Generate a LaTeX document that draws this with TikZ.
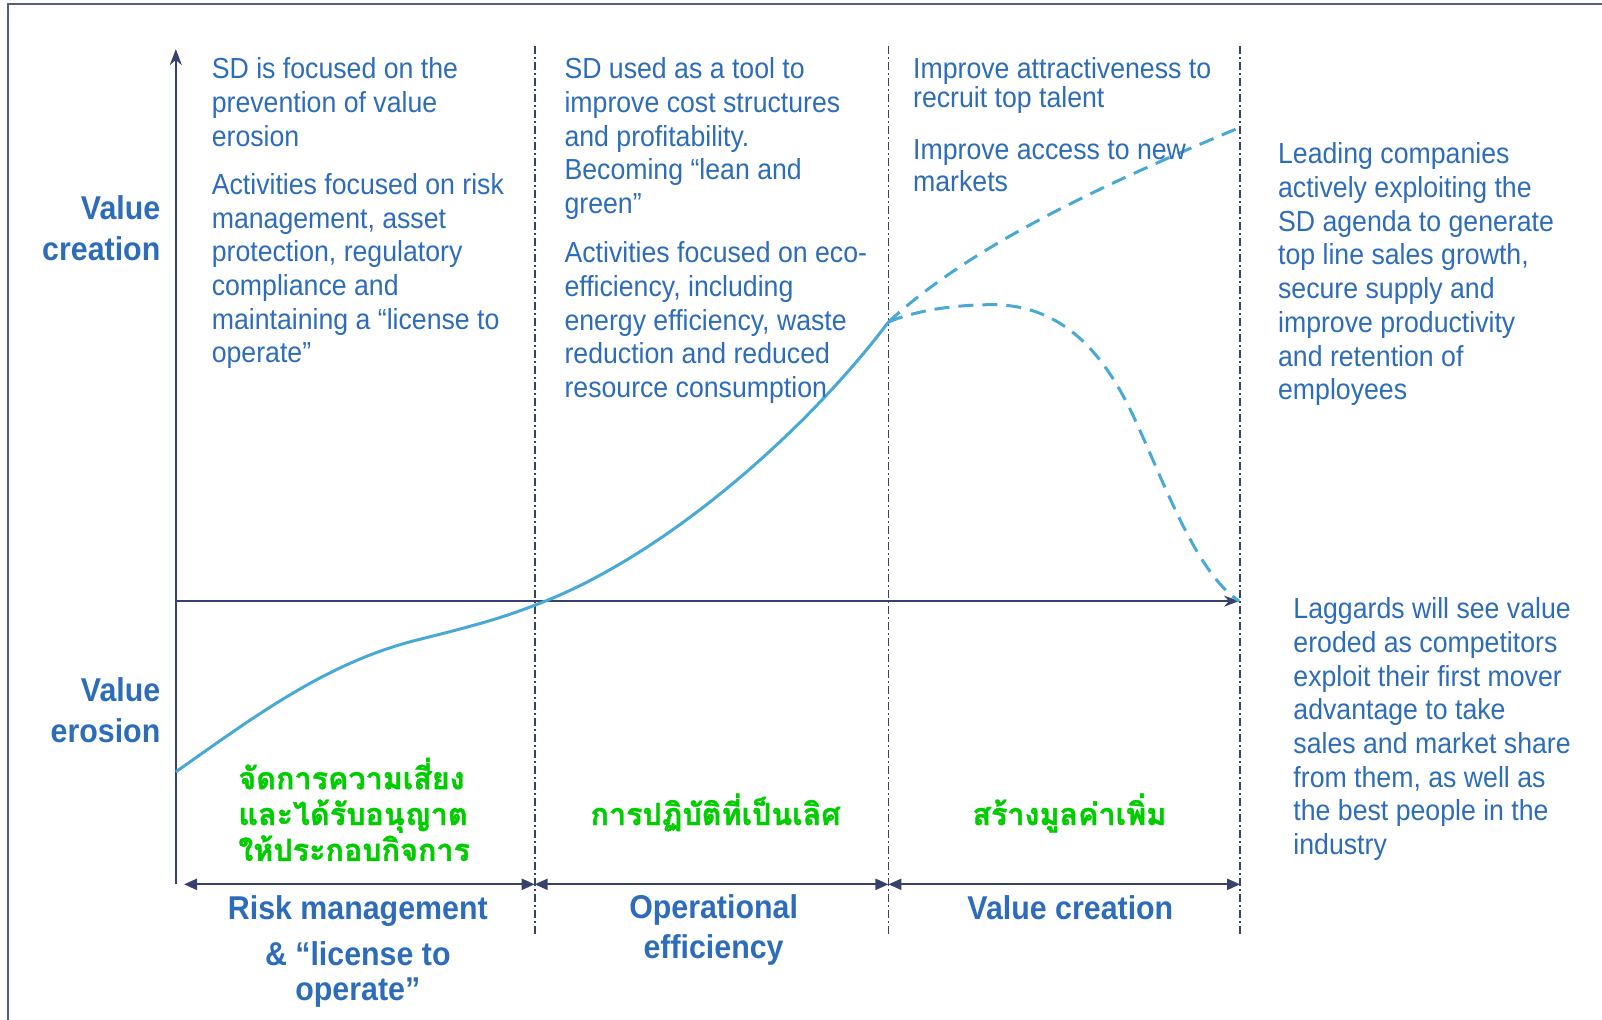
\documentclass[tikz,border=0pt]{standalone}
\usepackage{fontspec}
\setmainfont{Liberation Sans}[FakeStretch=0.92]
\newfontfamily\thaifont[Script=Thai,FakeBold=1.3]{Loma}
\usetikzlibrary{arrows.meta}
\definecolor{txtblue}{RGB}{45,108,186}
\definecolor{navy}{RGB}{55,66,108}
\definecolor{curveblue}{RGB}{72,168,214}
\definecolor{thaigreen}{RGB}{0,204,0}
\begin{document}
\begin{tikzpicture}[x=1.0224pt,y=-1.0224pt,
  body/.style={font=\fontsize{29}{33.7}\selectfont, text=txtblue, align=left, inner sep=0pt, anchor=base west},
  boldlab/.style={font=\fontsize{33}{40.9}\selectfont\bfseries, text=txtblue, inner sep=0pt},
  thai/.style={font=\fontsize{30.5}{35.8}\selectfont\thaifont\bfseries, text=thaigreen, inner sep=0pt},
  axis/.style={draw=navy, line width=2.2pt},
  divider/.style={draw=navy, line width=1.7pt, dash pattern=on 8pt off 3pt on 2pt off 3pt},
  span/.style={draw=navy, line width=2.2pt, {Triangle[length=13pt,width=11pt]}-{Triangle[length=13pt,width=11pt]}},
  curve/.style={draw=curveblue, line width=3pt},
  dashcurve/.style={curve, dash pattern=on 15pt off 9pt}]
\useasboundingbox (0,0) rectangle (1567,997.7);
\draw[navy!85, line width=2.5pt] (8,4) rectangle (1620,1060);

% axes
\coordinate (O) at (172,588);
\coordinate (ybot) at (172,865);
\coordinate (ytop) at (172,48);
\coordinate (xend) at (1212,588);
\draw[axis, -{Stealth[length=16pt,width=12pt]}] (ybot) -- (ytop);
\draw[axis, -{Stealth[length=15pt,width=11pt]}] (O) -- (xend);

% dividers
\foreach \n/\x in {1/523,2/869,3/1213}{
  \coordinate (d\n t) at (\x,45);
  \coordinate (d\n b) at (\x,915);
  \draw[divider] (d\n t) -- (d\n b);
}

% spans
\coordinate (s0) at (180,865);
\coordinate (s1) at (523,865);
\coordinate (s2) at (869,865);
\coordinate (s3) at (1213,865);
\draw[span] (s0) -- (s1);
\draw[span] (s1) -- (s2);
\draw[span] (s2) -- (s3);

% curves
\coordinate (cs) at (172,755);
\coordinate (J) at (869,315);
\coordinate (up) at (1212,125);
\draw[curve] (cs) .. controls (250,700) and (320,648) .. (408,626)
  .. controls (460,613) and (490,605) .. (523,592)
  .. controls (650,545) and (790,420) .. (J);
\draw[dashcurve] (J) .. controls (950,240) and (1080,180) .. (up);
\draw[dashcurve] (J) .. controls (900,302) and (940,298) .. (972,298)
  .. controls (1040,299) and (1080,345) .. (1110,410)
  .. controls (1140,475) and (1170,560) .. (xend);

% column texts (anchored at the baseline of the last line)
\node[body] (c1a) at (207,143) {SD is focused on the\\prevention of value\\erosion};
\node[body] (c1b) at (207,355) {Activities focused on risk\\management, asset\\protection, regulatory\\compliance and\\maintaining a “license to\\operate”};
\node[body] (c2a) at (552,209) {SD used as a tool to\\improve cost structures\\and profitability.\\Becoming “lean and\\green”};
\node[body] (c2b) at (552,389) {Activities focused on eco-\\efficiency, including\\energy efficiency, waste\\reduction and reduced\\resource consumption};
\node[body, font=\fontsize{29}{29}\selectfont] (c3a) at (893,105.4) {Improve attractiveness to\\recruit top talent};
\node[body, font=\fontsize{29}{31.7}\selectfont] (c3b) at (893,187) {Improve access to new\\markets};
\node[body] (r1) at (1250,391) {Leading companies\\actively exploiting the\\SD agenda to generate\\top line sales growth,\\secure supply and\\improve productivity\\and retention of\\employees};
\node[body] (r2) at (1265,836) {Laggards will see value\\eroded as competitors\\exploit their first mover\\advantage to take\\sales and market share\\from them, as well as\\the best people in the\\industry};

% axis labels
\node[boldlab, align=right, anchor=base east] (vc) at (157,255) {Value\\creation};
\node[boldlab, align=right, anchor=base east] (ve) at (157,726) {Value\\erosion};

% bottom labels
\node[boldlab, anchor=base] (rm1) at (350,899) {Risk management};
\node[boldlab, anchor=base] (rm2) at (350,944) {\& “license to};
\node[boldlab, anchor=base] (rm3) at (350,979) {operate”};
\node[boldlab, align=center, anchor=base] (oe) at (698,938) {Operational\\efficiency};
\node[boldlab, anchor=base] (vcb) at (1047,899) {Value creation};

% Thai labels
\node[thai, align=left, anchor=base west] (th1) at (233,842) {จัดการความเสี่ยง\\และได้รับอนุญาต\\ให้ประกอบกิจการ};
\node[thai, anchor=base] (th2) at (700,807) {การปฏิบัติที่เป็นเลิศ};
\node[thai, anchor=base] (th3) at (1046,807) {สร้างมูลค่าเพิ่ม};
\end{tikzpicture}
\end{document}
